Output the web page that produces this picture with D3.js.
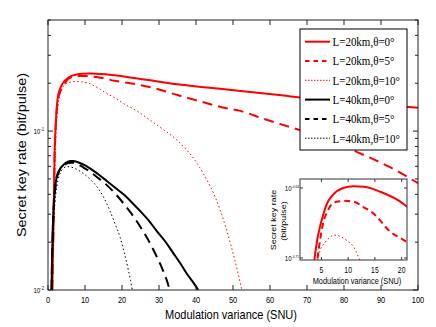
<!DOCTYPE html>
<html>
<head>
<meta charset="utf-8">
<script src="https://cdn.jsdelivr.net/npm/d3@7"></script>
<style>
  body { margin: 0; background: #fff; }
  svg { display: block; }
</style>
</head>
<body>
<div id="chart"></div>
<script>
// modulation variance (SNU) and secret key rate (bit/pulse)
const varR0 = [1.15, 1.4, 1.6, 1.8, 2.0, 2.25, 2.6, 3.15, 3.74, 4.2, 4.68, 5.3, 5.94, 7.19, 9.08, 11, 13, 16, 19.75, 21, 27.6, 35, 43, 52, 65, 84, 100];
const rateR0 = [0.01, 0.02, 0.04, 0.075, 0.1, 0.13, 0.16, 0.181, 0.195, 0.203, 0.209, 0.215, 0.2204, 0.2256, 0.2291, 0.23, 0.2297, 0.2271, 0.222, 0.2195, 0.209, 0.197, 0.188, 0.179, 0.166, 0.15, 0.14];

const varR5 = [1.15, 1.4, 1.6, 1.8, 2.0, 2.25, 2.6, 3.15, 3.9, 4.5, 5.3, 6.2, 7.19, 8.45, 9.5, 11, 13, 14.7, 17.9, 20.4, 22.6, 28.9, 35.2, 41.5, 48.3, 52, 58, 65.4, 75, 84, 92, 100];
const rateR5 = [0.01, 0.02, 0.039, 0.072, 0.096, 0.124, 0.152, 0.174, 0.188, 0.199, 0.211, 0.2175, 0.2213, 0.2222, 0.2224, 0.222, 0.219, 0.2161, 0.2071, 0.2032, 0.1995, 0.1856, 0.168, 0.153, 0.139, 0.134, 0.12, 0.106, 0.09, 0.073, 0.06, 0.047];

const varR10 = [1.2, 1.45, 1.65, 1.85, 2.1, 2.4, 2.8, 3.3, 3.9, 4.3, 4.8, 5.6, 6.4, 7.2, 8.2, 9.08, 10, 10.96, 12.2, 14, 15.8, 18, 20.4, 24, 27.6, 31, 35, 41, 46.5, 50.5, 52.4];
const rateR10 = [0.01, 0.02, 0.036, 0.06, 0.09, 0.12, 0.15, 0.172, 0.187, 0.194, 0.1987, 0.2018, 0.204, 0.2055, 0.2052, 0.2042, 0.2025, 0.2003, 0.194, 0.184, 0.173, 0.162, 0.149, 0.134, 0.117, 0.103, 0.087, 0.059, 0.032, 0.0154, 0.01];

const varK0 = [0.95, 1.1, 1.3, 1.5, 1.8, 2.35, 3.1, 4.1, 5, 5.95, 6.8, 7.75, 9.5, 11.35, 13.5, 15.9, 18, 20.4, 22.6, 24.9, 27.2, 29.4, 31.7, 33.9, 35.7, 37.5, 39.2, 40.6];
const rateK0 = [0.01, 0.016, 0.025, 0.032, 0.041, 0.0516, 0.057, 0.0611, 0.0635, 0.0648, 0.0648, 0.0642, 0.0617, 0.0583, 0.0537, 0.0485, 0.0443, 0.04, 0.0357, 0.0314, 0.0274, 0.0235, 0.0202, 0.017, 0.0148, 0.0127, 0.0112, 0.01];

const varK5 = [0.95, 1.1, 1.3, 1.5, 1.8, 2.35, 3.1, 4.1, 5, 6, 6.8, 7.75, 9.5, 11.35, 13.5, 15.9, 18, 20.4, 22.6, 24.9, 27.2, 29.4, 31, 32, 32.9];
const rateK5 = [0.01, 0.016, 0.024, 0.031, 0.04, 0.05, 0.0565, 0.0605, 0.0625, 0.0633, 0.0632, 0.0622, 0.0592, 0.0555, 0.0508, 0.0457, 0.0408, 0.0351, 0.0301, 0.0251, 0.0204, 0.0162, 0.0134, 0.0117, 0.01];

const varK10 = [1.0, 1.2, 1.4, 1.7, 2.1, 2.7, 3.4, 4.2, 5.05, 6, 7.2, 8.3, 9.5, 11.3, 13.2, 15, 16.75, 18.2, 19.5, 20.6, 21.7, 22.3, 22.8];
const rateK10 = [0.01, 0.016, 0.023, 0.031, 0.04, 0.049, 0.055, 0.0585, 0.0597, 0.0595, 0.0583, 0.0565, 0.0542, 0.05, 0.0447, 0.0385, 0.0314, 0.0258, 0.0214, 0.0172, 0.0134, 0.0115, 0.01];

const legendLabels = ["L=20km,\u03b8=0\u00b0", "L=20km,\u03b8=5\u00b0", "L=20km,\u03b8=10\u00b0",
                      "L=40km,\u03b8=0\u00b0", "L=40km,\u03b8=5\u00b0", "L=40km,\u03b8=10\u00b0"];
const xTicks = [0, 10, 20, 30, 40, 50, 60, 70, 80, 90, 100];
const insetXTicks = [5, 10, 15, 20];
const insetYExp = [-0.64, -0.71];

const series = [
  {x: varR0, y: rateR0, color: "#ff0000", kind: "solid"},
  {x: varR5, y: rateR5, color: "#ff0000", kind: "dash"},
  {x: varR10, y: rateR10, color: "#ff0000", kind: "dot"},
  {x: varK0, y: rateK0, color: "#000000", kind: "solid"},
  {x: varK5, y: rateK5, color: "#000000", kind: "dash"},
  {x: varK10, y: rateK10, color: "#000000", kind: "dot"}
];

const W = 436, H = 327;
const SANS = "'Liberation Sans', Arial, Helvetica, sans-serif";
const SERIF = "'Liberation Serif', 'Times New Roman', serif";
const STRETCH = 1.2; // glyphs in the picture are taller than wide

const svg = d3.select("#chart").append("svg")
  .attr("width", W).attr("height", H);

let x = d3.scaleLinear().domain([0, 100]).range([48, 418]);
let y = d3.scaleLog().domain([0.01, 0.5]).range([290, 20]);

let xi = d3.scaleLinear().domain([1, 21]).range([300, 407]);
let yi = d3.scaleLog().domain([Math.pow(10, -0.712), Math.pow(10, -0.631)]).range([260, 179]);

function styleLine(sel, kind, big) {
  sel.attr("fill", "none");
  if (kind === "solid") sel.attr("stroke-width", 2);
  else if (kind === "dash") sel.attr("stroke-width", 2).attr("stroke-dasharray", big ? "10,6" : "6,4");
  else sel.attr("stroke-width", 1).attr("stroke-dasharray", "1.5,2.5");
  return sel;
}

function label(g, px, py, str, size, anchor, family) {
  return g.append("text")
    .attr("transform", "translate(" + px + "," + py + ") scale(1," + STRETCH + ")")
    .attr("text-anchor", anchor || "middle")
    .style("font-family", family || SANS)
    .style("font-size", size + "px")
    .attr("fill", "#000")
    .text(str);
}

// power-of-ten label, "10" with a raised exponent
function powLabel(g, px, py, exp, size, supSize) {
  let t = g.append("text")
    .attr("transform", "translate(" + px + "," + py + ") scale(1," + STRETCH + ")")
    .attr("text-anchor", "end")
    .style("font-family", SANS)
    .attr("fill", "#000");
  t.append("tspan").style("font-size", size + "px").text("10");
  t.append("tspan").style("font-size", supSize + "px").attr("dy", -size * 0.45).text(exp);
  return t;
}

// ---- main plot
svg.append("defs").append("clipPath").attr("id", "clipMain")
  .append("rect").attr("x", 48).attr("y", 20).attr("width", 370).attr("height", 270);
svg.select("defs").append("clipPath").attr("id", "clipInset")
  .append("rect").attr("x", 300).attr("y", 179).attr("width", 107).attr("height", 81);

let lineMain = d3.line().x(d => x(d[0])).y(d => y(d[1])).curve(d3.curveMonotoneX);
let curves = svg.append("g").attr("clip-path", "url(#clipMain)");
series.forEach(function (s) {
  let pts = s.x.map((v, i) => [v, s.y[i]]);
  styleLine(curves.append("path").datum(pts).attr("d", lineMain).attr("stroke", s.color), s.kind, true);
});

// axes box and inward ticks (MATLAB style)
let ax = svg.append("g").attr("stroke", "#222").attr("stroke-width", 1);
ax.append("rect").attr("x", 48).attr("y", 20).attr("width", 370).attr("height", 270).attr("fill", "none");
xTicks.forEach(function (t) {
  ax.append("line").attr("x1", x(t)).attr("x2", x(t)).attr("y1", 290).attr("y2", 285);
  ax.append("line").attr("x1", x(t)).attr("x2", x(t)).attr("y1", 20).attr("y2", 25);
});
let yMinor = [];
[0.01, 0.1].forEach(function (dec) {
  for (let k = 1; k <= 9; k++) { if (dec * k <= 0.5) yMinor.push(dec * k); }
});
yMinor.forEach(function (v) {
  let len = (Math.abs(Math.log10(v) - Math.round(Math.log10(v))) < 1e-9) ? 5 : 3;
  ax.append("line").attr("x1", 48).attr("x2", 48 + len).attr("y1", y(v)).attr("y2", y(v));
  ax.append("line").attr("x1", 418).attr("x2", 418 - len).attr("y1", y(v)).attr("y2", y(v));
});

let labels = svg.append("g");
xTicks.forEach(function (t) {
  label(labels, x(t), 302.5, String(t), 7.4);
});
powLabel(labels, 44, 134, "-1", 6.2, 4.2);
powLabel(labels, 44, 293, "-2", 6.2, 4.2);

label(labels, 231, 319, "Modulation variance (SNU)", 11);
labels.append("text")
  .attr("transform", "translate(26,155) rotate(-90)")
  .attr("text-anchor", "middle")
  .style("font-family", SANS)
  .style("font-size", "12.5px")
  .attr("textLength", 164).attr("lengthAdjust", "spacingAndGlyphs")
  .text("Secret key rate (bit/pulse)");

// ---- legend
let leg = svg.append("g");
leg.append("rect").attr("x", 300).attr("y", 29).attr("width", 107).attr("height", 121)
  .attr("fill", "#fff").attr("stroke", "#000").attr("stroke-width", 1);
series.forEach(function (s, i) {
  let ly = 41.7 + i * 19.3;
  let l = leg.append("line").attr("x1", 305).attr("x2", 330).attr("y1", ly).attr("y2", ly)
    .attr("stroke", s.color);
  styleLine(l, s.kind, false);
  if (s.kind === "dash") l.attr("stroke-dasharray", "4.5,4");
  if (s.kind === "dot") l.attr("stroke-dasharray", "1.5,1.5");
  label(leg, 332.5, ly + 4.3, legendLabels[i], 11, "start", SERIF);
});

// ---- inset (zoom on the red curves)
let ins = svg.append("g");
ins.append("rect").attr("x", 300).attr("y", 179).attr("width", 107).attr("height", 81)
  .attr("fill", "#fff");
let lineIn = d3.line().x(d => xi(d[0])).y(d => yi(d[1])).curve(d3.curveMonotoneX);
let inCurves = ins.append("g").attr("clip-path", "url(#clipInset)");
series.slice(0, 3).forEach(function (s) {
  let pts = s.x.map((v, i) => [v, s.y[i]]);
  styleLine(inCurves.append("path").datum(pts).attr("d", lineIn).attr("stroke", s.color), s.kind, false);
});
let inAx = ins.append("g").attr("stroke", "#333").attr("stroke-width", 1);
inAx.append("rect").attr("x", 300).attr("y", 179).attr("width", 107).attr("height", 81).attr("fill", "none");
insetXTicks.forEach(function (t) {
  inAx.append("line").attr("x1", xi(t)).attr("x2", xi(t)).attr("y1", 260).attr("y2", 257);
  inAx.append("line").attr("x1", xi(t)).attr("x2", xi(t)).attr("y1", 179).attr("y2", 182);
  label(ins, xi(t), 272.5, String(t), 6.8);
});
insetYExp.forEach(function (e) {
  let py = yi(Math.pow(10, e));
  inAx.append("line").attr("x1", 300).attr("x2", 303).attr("y1", py).attr("y2", py);
  inAx.append("line").attr("x1", 407).attr("x2", 404).attr("y1", py).attr("y2", py);
  powLabel(ins, 299, py + 3, String(e), 6.2, 3.2);
});
label(ins, 357, 284, "Modulation variance (SNU)", 7.4);
ins.append("text")
  .attr("transform", "translate(275.5,220) scale(1," + STRETCH + ") rotate(-90)")
  .attr("text-anchor", "middle")
  .style("font-family", SANS).style("font-size", "7.5px")
  .text("Secret key rate");
ins.append("text")
  .attr("transform", "translate(285.5,221) scale(1," + STRETCH + ") rotate(-90)")
  .attr("text-anchor", "middle")
  .style("font-family", SANS).style("font-size", "7.5px")
  .text("(bit/pulse)");
</script>
</body>
</html>
